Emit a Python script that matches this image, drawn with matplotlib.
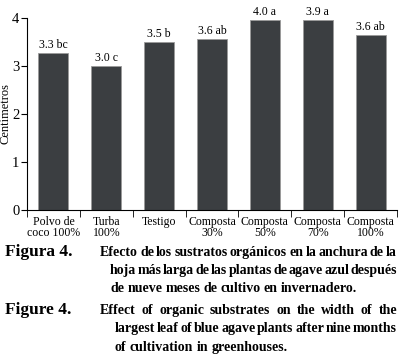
import matplotlib
matplotlib.use("Agg")
import matplotlib.pyplot as plt
import numpy as np

# datos
categorias = ["Polvo de\ncoco 100%", "Turba\n100%", "Testigo", "Composta\n30%",
              "Composta\n50%", "Composta\n70%", "Composta\n100%"]
alturas = [3.28, 3.0, 3.5, 3.56, 3.96, 3.95, 3.64]
etiquetas = ["3.3 bc", "3.0 c", "3.5 b", "3.6 ab", "4.0 a", "3.9 a", "3.6 ab"]
yticks = [0, 1, 2, 3, 4]

caption_es = ["Efecto de los sustratos orgánicos en la anchura de la",
              "hoja más larga de las plantas de agave azul después",
              "de nueve meses de cultivo en invernadero."]
caption_en = ["Effect of organic substrates on the width of the",
              "largest leaf of blue agave plants after nine months",
              "of cultivation in greenhouses."]

plt.rcParams["font.family"] = ["Liberation Serif", "DejaVu Serif"]

fig = plt.figure(figsize=(4, 3.6), dpi=100)
ax = fig.add_axes([27 / 400, 1 - 210 / 360, 370 / 400, 192 / 360])

x = np.arange(len(categorias))
ax.bar(x, alturas, width=0.57, color="#3b3e41", edgecolor="#9a9a9a", linewidth=0.6)
for xi, h, t in zip(x, alturas, etiquetas):
    ax.text(xi, h + 0.04, t, ha="center", va="bottom", fontsize=8.5)

ax.set_xlim(-0.5, len(categorias) - 0.5)
ax.set_ylim(0, 4)
ax.set_yticks(yticks)
ax.tick_params(axis="y", labelsize=10.5, direction="out", length=4, pad=1.5)
ax.set_xticks(x)
ax.set_xticklabels(categorias, fontsize=8.5, linespacing=0.95)
ax.tick_params(axis="x", length=0, pad=4)
ax.set_xticks(np.arange(-0.5, len(categorias)), minor=True)
ax.tick_params(axis="x", which="minor", length=5, direction="out")
ax.set_ylabel("Centímetros", fontsize=9)
ax.yaxis.set_label_coords(-0.042, 0.5)
for s in ["top", "right"]:
    ax.spines[s].set_visible(False)

# pie de figura justificado
fig.canvas.draw()
renderer = fig.canvas.get_renderer()
fw = fig.bbox.width
FS = 10


def linea(texto, x0, x1, y, justificar=True, fs=FS):
    palabras = texto.split(" ")
    objs = [fig.text(0, y, p, fontsize=fs, fontweight="bold", va="baseline")
            for p in palabras]
    anchos = [o.get_window_extent(renderer).width for o in objs]
    if justificar and len(palabras) > 1:
        hueco = ((x1 - x0) - sum(anchos)) / (len(palabras) - 1)
    else:
        hueco = 3.2
    pos = x0
    for o, w in zip(objs, anchos):
        o.set_x(pos / fw)
        pos += w + hueco


# líneas base del pie (px desde arriba)
ys = [256, 274, 292, 314, 332, 351]
fig.text(5 / 400, 1 - ys[0] / 360, "Figura 4.", fontsize=12.5, fontweight="bold", va="baseline")
linea(caption_es[0], 100, 397, 1 - ys[0] / 360)
linea(caption_es[1], 110, 397, 1 - ys[1] / 360)
linea(caption_es[2], 110, 397, 1 - ys[2] / 360, justificar=False)
fig.text(5 / 400, 1 - ys[3] / 360, "Figure 4.", fontsize=12.5, fontweight="bold", va="baseline")
linea(caption_en[0], 100, 397, 1 - ys[3] / 360)
linea(caption_en[1], 115, 397, 1 - ys[4] / 360)
linea(caption_en[2], 115, 397, 1 - ys[5] / 360, justificar=False)

fig.savefig("out.png", dpi=100)
